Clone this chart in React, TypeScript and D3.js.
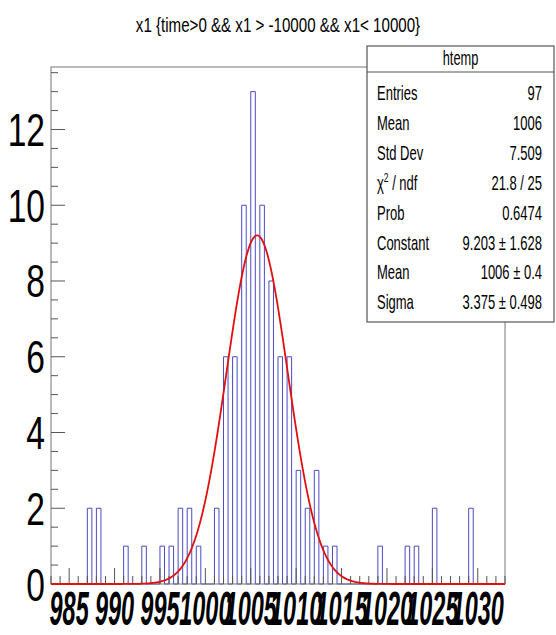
import React from "react";
import * as d3 from "d3";

// ---- data ----
const binValues = [987, 988, 991, 993, 995, 996, 997, 998, 999, 1001, 1002, 1003, 1004, 1005, 1006, 1007, 1008, 1009, 1010, 1011, 1012, 1013, 1014, 1019, 1022, 1023, 1025, 1029];
const binCounts = [2, 2, 1, 1, 1, 1, 2, 2, 1, 2, 6, 6, 10, 13, 10, 8, 6, 6, 3, 2, 3, 1, 1, 1, 1, 1, 2, 2];
const xRange = [983, 1033];
const nBins = 100;
const yMax = 13.65;
const xTickLabels = [985, 990, 995, 1000, 1005, 1010, 1015, 1020, 1025, 1030];
const yTickLabels = [0, 2, 4, 6, 8, 10, 12];
const fitConstant = 9.203;
const fitMean = 1005.7;
const fitSigma = 3.375;
const titleText = "x1 {time>0 && x1 > -10000 && x1< 10000}";
const statsTitle = "htemp";
const statsLabels = ["Entries", "Mean", "Std Dev", "CHI", "Prob", "Constant", "Mean", "Sigma"];
const statsValues = ["97", "1006", "7.509", "21.8 / 25", "0.6474", "9.203 \u00b1 1.628", "1006 \u00b1 0.4", "3.375 \u00b1 0.498"];

const W = 556, H = 635;
const F = { l: 51, r: 505, t: 67, b: 584 };
const FONT = "'Liberation Sans', Arial, Helvetica, sans-serif";

function CText({ x, y, anchor = "start", size, sx, weight = "normal", italic = false, children }: any) {
  return (
    <g transform={`translate(${x},${y}) scale(${sx},1)`}>
      <text x={0} y={0} textAnchor={anchor} fontSize={size} fontFamily={FONT} fontWeight={weight} fontStyle={italic ? "italic" : "normal"} fill="#000">
        {children}
      </text>
    </g>
  );
}

export default function App() {
  const x = d3.scaleLinear().domain(xRange).range([F.l, F.r]);
  const y = d3.scaleLinear().domain([0, yMax]).range([F.b, F.t]);
  const bw = (xRange[1] - xRange[0]) / nBins;

  const counts = new Array(nBins).fill(0);
  binValues.forEach((v, i) => {
    const idx = Math.floor((v - xRange[0]) / bw + 1e-6);
    counts[idx] += binCounts[i];
  });

  const pts: [number, number][] = [[xRange[0], 0]];
  counts.forEach((c, i) => {
    const lo = xRange[0] + i * bw;
    pts.push([lo, c], [lo + bw, c]);
  });
  pts.push([xRange[1], 0]);
  const histPath = d3.line<[number, number]>().x(d => x(d[0])).y(d => y(d[1])).curve(d3.curveLinear)(pts) || "";

  const gx = d3.range(xRange[0], xRange[1] + 0.001, 0.05);
  const gauss = (v: number) => fitConstant * Math.exp(-0.5 * ((v - fitMean) / fitSigma) ** 2);
  const fitPath = d3.line<number>().x(v => x(v)).y(v => y(gauss(v)))(gx) || "";

  const yTicks = d3.range(0, yMax, 0.5);
  const xTicks = d3.range(xRange[0], xRange[1] + 0.001, 1);

  const box = { x: 367, y: 46, w: 187, h: 276, head: 72 };

  return (
    <svg width={W} height={H} style={{ position: "absolute", left: 0, top: 0, background: "#fff" }}>
      <rect x={0} y={0} width={W} height={H} fill="#fff" />
      {/* title */}
      <CText x={278} y={32} anchor="middle" size={21} sx={0.72}>{titleText}</CText>

      {/* histogram */}
      <path d={histPath} fill="none" stroke="#4b4bc0" strokeWidth={1} />
      {/* frame */}
      <rect x={F.l} y={F.t} width={F.r - F.l} height={F.b - F.t} fill="none" stroke="#777" strokeWidth={1} />
      {/* ticks */}
      {yTicks.map(v => (
        <line key={"yt" + v} x1={F.l} x2={F.l + (v % 2 === 0 ? 14 : 7)} y1={y(v)} y2={y(v)} stroke="#555" strokeWidth={1} />
      ))}
      {xTicks.map(v => (
        <line key={"xt" + v} x1={x(v)} x2={x(v)} y1={F.b} y2={F.b - (v % 5 === 0 ? 16 : 8)} stroke="#555" strokeWidth={1} />
      ))}
      {/* fit */}
      <path d={fitPath} fill="none" stroke="#e01010" strokeWidth={1.8} />

      {/* y labels */}
      {yTickLabels.map(v => (
        <CText key={"yl" + v} x={45} y={y(v) + 16.5} anchor="end" size={46} sx={0.73}>{v}</CText>
      ))}
      {/* x labels */}
      {xTickLabels.map(v => (
        <CText key={"xl" + v} x={x(v)} y={625} anchor="middle" size={48} sx={0.49} weight="bold" italic>{v}</CText>
      ))}

      {/* stats box */}
      <rect x={box.x} y={box.y} width={box.w} height={box.h} fill="#fff" stroke="#555" strokeWidth={1.2} />
      <line x1={box.x} x2={box.x + box.w} y1={box.head} y2={box.head} stroke="#555" strokeWidth={1.2} />
      <CText x={box.x + box.w / 2} y={box.y + 19} anchor="middle" size={20} sx={0.64}>{statsTitle}</CText>
      {statsLabels.map((lab, i) => {
        const cy = 93 + i * 29.9 + 7;
        return (
          <g key={"s" + i}>
            {lab === "CHI" ? (
              <CText x={377} y={cy} size={20} sx={0.65}>
                {"\u03c7"}
                <tspan fontSize={13} dy={-8}>2</tspan>
                <tspan dy={8}>{" / ndf"}</tspan>
              </CText>
            ) : (
              <CText x={377} y={cy} size={20} sx={0.65}>{lab}</CText>
            )}
            <CText x={542} y={cy} anchor="end" size={20} sx={0.65}>{statsValues[i]}</CText>
          </g>
        );
      })}
    </svg>
  );
}
